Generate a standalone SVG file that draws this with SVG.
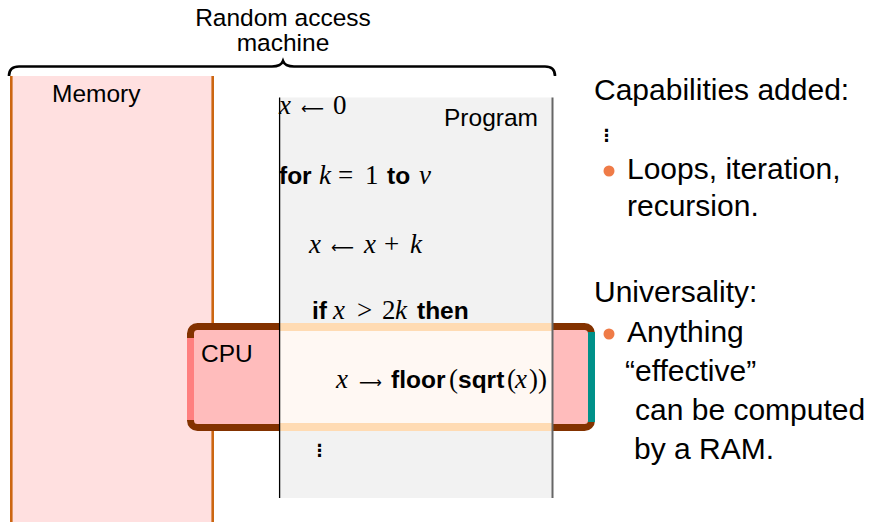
<svg xmlns="http://www.w3.org/2000/svg" width="871" height="522" viewBox="0 0 871 522">
<style>
.sans{font-family:"Liberation Sans",Arial,sans-serif;fill:#000}
.lbl{font-size:24.5px}
.big{font-size:30px}
.math{font-family:"Liberation Serif","DejaVu Serif",serif;font-size:27px}
.it{font-style:italic}
.ar{font-family:"DejaVu Sans",sans-serif;font-size:16px}
.bf{font-family:"Liberation Sans",Arial,sans-serif;font-weight:bold;font-size:24.5px}
.dots{font-family:"DejaVu Sans",sans-serif;font-weight:bold;font-size:17px}
.bullet{fill:#ef7b47}
</style>
<rect width="871" height="522" fill="#fff"/>
<g id="title">
<text class="sans lbl" x="283" y="26" text-anchor="middle">Random access</text>
<text class="sans lbl" x="283" y="51" text-anchor="middle">machine</text>
</g>
<g id="connectors">
<path d="M9 76 Q9 66.5 19 66.5 L272 66.5 Q281 66.5 283 61 Q285 66.5 294 66.5 L545 66.5 Q555 66.5 555 76" fill="none" stroke="#000" stroke-width="2.6"/>
</g>
<g id="memory">
<rect x="11" y="76" width="202" height="450" fill="#ffe0e0"/>
<line x1="11.3" y1="76" x2="11.3" y2="522" stroke="#cc6611" stroke-width="2.6"/>
<line x1="212.7" y1="76" x2="212.7" y2="522" stroke="#cc6611" stroke-width="2.6"/>
<text class="sans lbl" x="52" y="102">Memory</text>
</g>
<g id="program">
<rect x="279.5" y="97.5" width="273" height="400.5" fill="#f2f2f2"/>
<text class="sans lbl" x="444" y="126">Program</text>
<text class="math" y="114"><tspan class="it" x="279">x</tspan><tspan class="ar" x="301">⟵</tspan><tspan x="333">0</tspan></text>
<text class="math" y="184"><tspan class="bf" x="279">for</tspan><tspan class="it" x="319">k</tspan><tspan x="338">=</tspan><tspan x="365">1</tspan><tspan class="bf" x="387">to</tspan><tspan class="it" x="419">v</tspan></text>
<text class="math" y="253"><tspan class="it" x="309">x</tspan><tspan class="ar" x="331">⟵</tspan><tspan class="it" x="364">x</tspan><tspan x="384">+</tspan><tspan class="it" x="410">k</tspan></text>
<text class="math" y="319"><tspan class="bf" x="312">if</tspan><tspan class="it" x="333">x</tspan><tspan x="357">&gt;</tspan><tspan x="382">2</tspan><tspan class="it" x="395">k</tspan><tspan class="bf" x="417">then</tspan></text>
</g>
<g id="cpu">
<rect x="190.5" y="326.5" width="401" height="101" rx="7" fill="#ffbcbc" stroke="#833200" stroke-width="7"/>
<rect x="187" y="338" width="7" height="82" fill="#ff7f7f"/>
<rect x="588" y="332" width="7" height="90" fill="#009189"/>
<rect x="279.5" y="323" width="273" height="8" fill="#ffdbb3"/>
<rect x="279.5" y="331" width="273" height="92" fill="#fff8f3"/>
<rect x="279.5" y="423" width="273" height="8" fill="#ffdbb3"/>
<text class="sans lbl" x="201" y="362">CPU</text>
<text class="math" y="388"><tspan class="it" x="336">x</tspan><tspan class="ar" x="359">⟶</tspan><tspan class="bf" x="391">floor</tspan><tspan x="449">(</tspan><tspan class="bf" x="458">sqrt</tspan><tspan x="507">(</tspan><tspan class="it" x="515">x</tspan><tspan x="529">))</tspan></text>
</g>
<g id="program-lines">
<line x1="279.6" y1="97.5" x2="279.6" y2="498" stroke="#000" stroke-width="1.3"/>
<line x1="552.5" y1="97.5" x2="552.5" y2="498" stroke="#666" stroke-width="2"/>
<text class="dots" x="311" y="456">⋮</text>
</g>
<g id="notes">
<text class="sans big" x="594" y="100">Capabilities added:</text>
<text class="dots" x="598" y="141">⋮</text>
<circle class="bullet" cx="609" cy="171" r="5.5"/>
<text class="sans big" x="627" y="179">Loops, iteration,</text>
<text class="sans big" x="627" y="216">recursion.</text>
<text class="sans big" x="594" y="302">Universality:</text>
<circle class="bullet" cx="609" cy="334" r="5.5"/>
<text class="sans big" x="627" y="342">Anything</text>
<text class="sans big" x="625" y="381">“effective”</text>
<text class="sans big" x="635" y="420">can be computed</text>
<text class="sans big" x="634" y="459">by a RAM.</text>
</g>
</svg>
